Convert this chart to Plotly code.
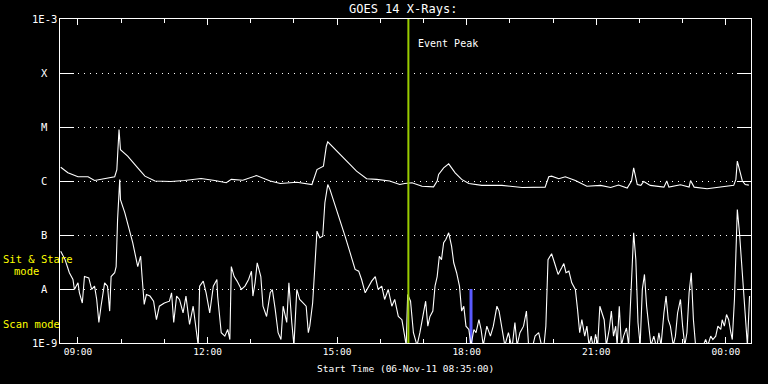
import pandas as pd
import numpy as np
import plotly.graph_objects as go

# ---------------- data ----------------
start_time = "2011-11-06 08:35:00"
span_hours = 16

# long channel (1-8 A), minutes after start / flux W m^-2
long_t = [1, 11, 25, 39, 48, 62, 76, 79, 82, 84,
          94, 108, 118, 132, 154, 173, 196, 215, 231, 238,
          254, 273, 292, 306, 329, 350, 357, 366, 370, 372,
          384, 398, 412, 426, 440, 458, 472, 479, 489, 503,
          519, 524, 526, 533, 540, 549, 558, 568, 586, 614,
          642, 674, 679, 683, 693, 702, 716, 732, 751, 765,
          776, 788, 794, 797, 802, 807, 811, 820, 839, 843,
          846, 862, 874, 876, 881, 899, 918, 936, 939, 941,
          944, 948, 952, 957]
long_f = [1.8e-6, 1.42e-6, 1.2e-6, 1.2e-6, 1.02e-6, 1.11e-6, 1.2e-6, 1.63e-6, 9.0e-6, 3.8e-6,
          2.9e-6, 1.75e-6, 1.23e-6, 1.0e-6, 0.98e-6, 1.02e-6, 1.11e-6, 1.02e-6, 0.93e-6, 1.07e-6,
          1.03e-6, 1.26e-6, 1.0e-6, 0.9e-6, 0.95e-6, 0.86e-6, 1.63e-6, 1.88e-6, 4.4e-6, 5.3e-6,
          3.6e-6, 2.3e-6, 1.52e-6, 1.1e-6, 1.07e-6, 1.0e-6, 0.86e-6, 0.9e-6, 0.93e-6, 0.8e-6,
          0.78e-6, 1.0e-6, 1.32e-6, 1.75e-6, 2.08e-6, 1.42e-6, 1.07e-6, 0.9e-6, 0.83e-6, 0.83e-6,
          0.76e-6, 0.77e-6, 1.2e-6, 1.23e-6, 1.1e-6, 1.2e-6, 1.02e-6, 0.8e-6, 0.83e-6, 0.76e-6,
          0.84e-6, 0.74e-6, 1.0e-6, 1.75e-6, 0.86e-6, 0.83e-6, 0.98e-6, 0.83e-6, 0.77e-6, 1.0e-6,
          0.77e-6, 0.85e-6, 0.77e-6, 1.02e-6, 0.77e-6, 0.72e-6, 0.77e-6, 0.83e-6, 1.07e-6, 2.33e-6,
          1.63e-6, 1.0e-6, 0.86e-6, 0.84e-6]

# short channel (0.5-4 A)
short_t = [1, 7, 13, 18, 20, 25, 27, 31, 34, 40,
           44, 48, 51, 54, 57, 62, 66, 69, 71, 76,
           78, 80, 83, 84, 90, 95, 101, 108, 112, 114,
           117, 120, 125, 130, 134, 138, 145, 152, 155, 158,
           162, 166, 171, 175, 180, 185, 189, 192, 194, 199,
           203, 208, 213, 218, 219, 222, 224, 229, 233, 236,
           238, 242, 246, 252, 257, 262, 266, 268, 271, 274,
           279, 282, 287, 292, 295, 299, 303, 307, 310, 315,
           318, 322, 325, 329, 333, 338, 342, 345, 347, 351,
           354, 357, 361, 365, 368, 372, 375, 382, 389, 396,
           403, 410, 415, 419, 424, 429, 433, 438, 442, 447,
           451, 456, 461, 465, 470, 475, 478, 481, 483, 487,
           491, 496, 500, 505, 508, 511, 514, 518, 521, 524,
           527, 530, 533, 536, 540, 544, 547, 551, 555, 558,
           561, 564, 568, 571, 575, 578, 582, 585, 588, 593,
           598, 602, 607, 610, 614, 618, 623, 628, 632, 635,
           639, 644, 648, 651, 656, 660, 665, 669, 672, 675,
           678, 683, 687, 692, 697, 700, 703, 707, 711, 716,
           719, 722, 725, 729, 732, 735, 738, 741, 744, 747,
           750, 753, 756, 759, 763, 766, 769, 772, 774, 777,
           780, 783, 787, 790, 794, 797, 800, 803, 806, 809,
           812, 815, 818, 821, 825, 829, 832, 835, 839, 842,
           845, 848, 852, 855, 858, 862, 865, 868, 871, 874,
           877, 880, 883, 888, 892, 897, 900, 904, 907, 911,
           914, 918, 920, 923, 926, 929, 932, 934, 937, 941,
           944, 947, 950, 953, 955, 958]
short_f = [5.0e-8, 3.5e-8, 2.0e-8, 1.5e-8, 9.8e-9, 1.3e-8, 8.5e-9, 5.5e-9, 1.7e-8, 1.6e-8,
           9.8e-9, 1.13e-8, 6.4e-9, 2.4e-9, 4.8e-9, 1.3e-8, 1.13e-8, 3.9e-9, 1.7e-8, 2.0e-8,
           2.6e-8, 1.94e-7, 1.07e-6, 4.5e-7, 2.6e-7, 1.45e-7, 7.2e-8, 2.6e-8, 4.05e-8, 1.7e-8,
           5.2e-9, 7.9e-9, 7.4e-9, 5.95e-9, 2.7e-9, 4.8e-9, 5.5e-9, 5.95e-9, 8.5e-9, 2.4e-9,
           7.4e-9, 6.4e-9, 3.6e-9, 7.4e-9, 2.2e-9, 4.8e-9, 1.55e-9, 0.9e-9, 1.13e-8, 1.4e-8,
           8.5e-9, 3.6e-9, 1.13e-8, 1.5e-8, 7.4e-9, 2.7e-9, 1.55e-9, 1.34e-9, 1.78e-9, 1.16e-9,
           2.6e-8, 1.7e-8, 1.4e-8, 9.8e-9, 1.13e-8, 1.5e-8, 2.14e-8, 7.4e-9, 1.3e-8, 3.06e-8,
           1.7e-8, 4.8e-9, 3.1e-9, 8.5e-9, 9.8e-9, 4.2e-9, 1.55e-9, 1.16e-9, 4.8e-9, 2.4e-9,
           1.3e-8, 2.4e-9, 0.9e-9, 9.8e-9, 6.4e-9, 5.5e-9, 4.8e-9, 1.55e-9, 2.05e-9, 5.5e-9,
           2.3e-8, 1.18e-7, 8.9e-8, 9.5e-8, 3.95e-7, 8.6e-7, 7.0e-7, 3.67e-7, 1.94e-7, 9.5e-8,
           4.7e-8, 2.3e-8, 2.14e-8, 1.5e-8, 8.5e-9, 1.13e-8, 1.4e-8, 1.7e-8, 9.8e-9, 1.13e-8,
           6.4e-9, 9.8e-9, 4.8e-9, 6.4e-9, 3.1e-9, 2.7e-9, 1.55e-9, 0.9e-9, 7.9e-9, 5.95e-9,
           1.55e-9, 0.9e-9, 1.55e-9, 3.6e-9, 5.95e-9, 2.05e-9, 3.1e-9, 3.9e-9, 1.13e-8, 1.7e-8,
           4.05e-8, 3.5e-8, 7.2e-8, 8.25e-8, 1.1e-7, 6.2e-8, 3.06e-8, 2.0e-8, 1.13e-8, 3.9e-9,
           4.8e-9, 2.05e-9, 1.78e-9, 0.9e-9, 1.78e-9, 1.55e-9, 2.7e-9, 1.78e-9, 0.9e-9, 2.05e-9,
           1.34e-9, 2.05e-9, 4.8e-9, 3.9e-9, 1.78e-9, 0.9e-9, 1.55e-9, 0.8e-9, 2.4e-9, 0.9e-9,
           1.55e-9, 2.05e-9, 3.9e-9, 0.9e-9, 0.8e-9, 1.34e-9, 1.55e-9, 0.9e-9, 0.8e-9, 2.05e-9,
           3.5e-8, 4.5e-8, 3.06e-8, 1.86e-8, 2.47e-8, 2.96e-8, 2.0e-8, 2.14e-8, 1.3e-8, 9.8e-9,
           4.2e-9, 1.55e-9, 2.7e-9, 1.34e-9, 2.05e-9, 0.9e-9, 1.34e-9, 0.8e-9, 1.44e-9, 0.9e-9,
           4.8e-9, 3.6e-9, 2.7e-9, 0.9e-9, 1.78e-9, 3.9e-9, 1.34e-9, 2.05e-9, 0.9e-9, 4.8e-9,
           0.9e-9, 1.34e-9, 1.9e-9, 0.9e-9, 1.13e-8, 1.1e-7, 3.5e-8, 2.4e-9, 0.9e-9, 9.8e-9,
           1.86e-8, 4.8e-9, 2.05e-9, 0.9e-9, 1.34e-9, 0.8e-9, 1.55e-9, 0.9e-9, 3.6e-9, 7.4e-9,
           2.7e-9, 2.05e-9, 0.9e-9, 1.34e-9, 3.6e-9, 6.4e-9, 2.05e-9, 0.9e-9, 1.55e-9, 8.5e-9,
           2.0e-8, 2.7e-9, 0.9e-9, 0.8e-9, 0.8e-9, 1.16e-9, 0.9e-9, 1.34e-9, 1.16e-9, 1.34e-9,
           2.05e-9, 1.78e-9, 2.7e-9, 2.05e-9, 3.37e-9, 2.7e-9, 1.55e-9, 1.16e-9, 6.4e-9, 2.97e-7,
           1.1e-7, 3.06e-8, 7.4e-9, 2.05e-9, 0.9e-9, 7.4e-9]

# y tick levels and labels
level_vals = [1e-9, 1e-8, 1e-7, 1e-6, 1e-5, 1e-4, 1e-3]
level_labels = ["1E-9", "A", "B", "C", "M", "X", "1E-3"]

event_peak_min = 484          # 16:39
scan_marker_min = 571         # 18:06
scan_marker_flux = [1e-9, 1e-8]

# ---------------- figure ----------------
t0 = pd.Timestamp(start_time)
to_time = lambda mins: [t0 + pd.Timedelta(minutes=m) for m in mins]
t_end = t0 + pd.Timedelta(hours=span_hours)

FONT = "DejaVu Sans Mono"
WHITE = "#ffffff"

fig = go.Figure()
fig.add_trace(go.Scatter(x=to_time([scan_marker_min, scan_marker_min]), y=scan_marker_flux,
                         mode="lines", line=dict(color="#5a5aff", width=3), hoverinfo="skip"))
fig.add_trace(go.Scatter(x=to_time(short_t), y=short_f, mode="lines",
                         line=dict(color=WHITE, width=1.1)))
fig.add_trace(go.Scatter(x=to_time(long_t), y=long_f, mode="lines",
                         line=dict(color=WHITE, width=1.1)))
# invisible trace to anchor the top (mirrored) time axis
fig.add_trace(go.Scatter(x=[t0, t_end], y=[1e-9, 1e-9], xaxis="x2", mode="lines",
                         line=dict(width=0), opacity=0, hoverinfo="skip"))

t_event = t0 + pd.Timedelta(minutes=event_peak_min)
fig.add_shape(type="line", xref="x", yref="paper", x0=t_event, x1=t_event, y0=0, y1=1,
              line=dict(color="#99cc00", width=2))

anns = []
for v, lab in zip(level_vals, level_labels):
    anns.append(dict(xref="paper", yref="y", x=0, y=np.log10(v), xshift=-16,
                     text=lab, showarrow=False, xanchor="center", yanchor="middle",
                     font=dict(family=FONT, size=10.5, color=WHITE)))
anns += [
    dict(xref="paper", yref="paper", x=0.5, y=1, yshift=10, xshift=-3, text="GOES 14 X-Rays:",
         showarrow=False, xanchor="center", yanchor="middle",
         font=dict(family=FONT, size=12, color=WHITE)),
    dict(xref="x", yref="paper", x=t_event, y=1, xshift=8, yshift=-24, text="Event Peak",
         showarrow=False, xanchor="left", yanchor="middle",
         font=dict(family=FONT, size=10, color=WHITE)),
    dict(xref="paper", yref="paper", x=0.5, y=0, yshift=-25, text="Start Time (06-Nov-11 08:35:00)",
         showarrow=False, xanchor="center", yanchor="middle",
         font=dict(family=FONT, size=9.5, color=WHITE)),
    dict(xref="paper", yref="paper", x=0, y=0, xshift=-59, yshift=84, text="Sit & Stare",
         showarrow=False, xanchor="left", yanchor="middle",
         font=dict(family=FONT, size=10.5, color="#ffff00")),
    dict(xref="paper", yref="paper", x=0, y=0, xshift=-48, yshift=72, text="mode",
         showarrow=False, xanchor="left", yanchor="middle",
         font=dict(family=FONT, size=10.5, color="#ffff00")),
    dict(xref="paper", yref="paper", x=0, y=0, xshift=-59, yshift=19, text="Scan mode",
         showarrow=False, xanchor="left", yanchor="middle",
         font=dict(family=FONT, size=10.5, color="#ffff00")),
]

time_axis_common = dict(
    type="date", range=[t0, t_end],
    tickmode="linear", tick0="2011-11-06 09:00:00", dtick=3 * 3600 * 1000,
    ticks="inside", ticklen=6, tickwidth=1, tickcolor=WHITE,
    showgrid=False, zeroline=False,
    minor=dict(tick0="2011-11-06 09:00:00", dtick=3600 * 1000, ticks="inside", ticklen=4,
               tickcolor=WHITE, tickwidth=1, showgrid=False),
)

fig.update_layout(
    width=768, height=384,
    margin=dict(l=60, r=17, t=19, b=41, pad=0),
    paper_bgcolor="#000000", plot_bgcolor="#000000",
    showlegend=False,
    annotations=anns,
    xaxis=dict(**time_axis_common, tickformat="%H:%M",
               showline=True, linecolor=WHITE, linewidth=1, mirror=True,
               tickfont=dict(family=FONT, size=9.5, color=WHITE)),
    xaxis2=dict(**time_axis_common, overlaying="x", side="top", anchor="y",
                showticklabels=False, showline=False),
    yaxis=dict(type="log", range=[-9, -3], tickmode="array", tickvals=level_vals,
               showticklabels=False, ticks="inside", ticklen=14, tickwidth=1, tickcolor=WHITE,
               showline=True, linecolor=WHITE, linewidth=1, mirror="ticks",
               showgrid=True, gridcolor=WHITE, gridwidth=1, griddash="1px,5px",
               zeroline=False),
)

fig.write_html("out.html")
